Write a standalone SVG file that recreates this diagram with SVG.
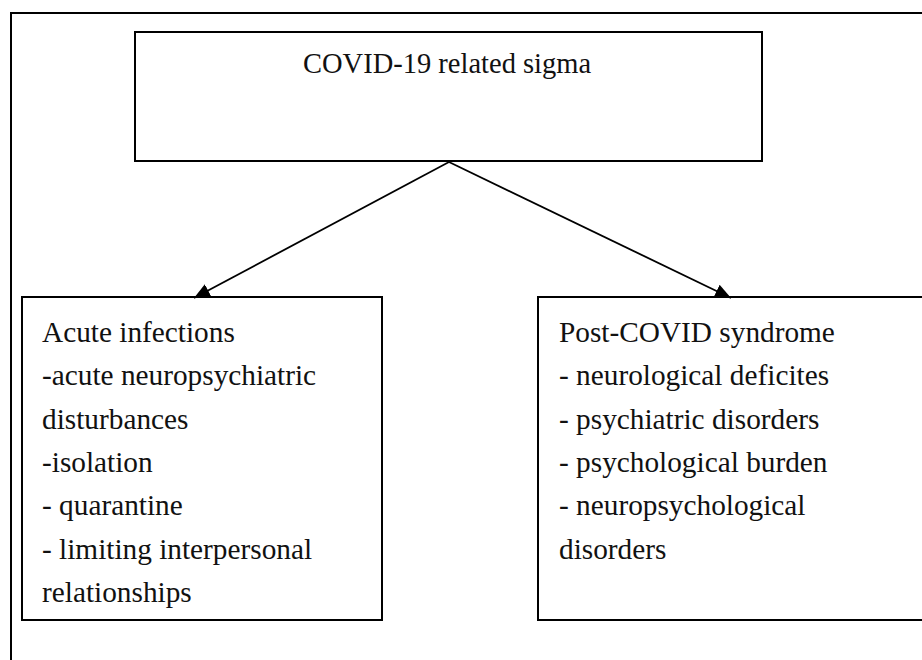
<svg xmlns="http://www.w3.org/2000/svg" width="922" height="660" viewBox="0 0 922 660">
  <style>
    .frame { fill: none; stroke: #000; stroke-width: 2; }
    .box { fill: #fff; stroke: #000; stroke-width: 2; }
    .conn { fill: none; stroke: #000; stroke-width: 1.8; }
    text { font-family: "Liberation Serif", "Times New Roman", serif; font-size: 29.3px; fill: #111; }
    .title { font-size: 28.5px; }
  </style>
  <defs>
    <marker id="arrow" viewBox="0 0 16 14" refX="16" refY="7" markerWidth="16" markerHeight="14" markerUnits="userSpaceOnUse" orient="auto">
      <path d="M0,0 L16,7 L0,14 z" fill="#000"/>
    </marker>
  </defs>
  <rect width="922" height="660" fill="#fff"/>
  <rect class="frame" x="11" y="13" width="960" height="700"/>

  <g id="stigma">
    <rect class="box" x="135" y="32" width="627" height="129"/>
    <text class="title" x="303" y="73">COVID-19 related sigma</text>
  </g>

  <g id="acute">
    <rect class="box" x="22" y="297" width="360" height="323"/>
    <text x="42" y="342">Acute infections</text>
    <text x="42" y="385.3">-acute neuropsychiatric</text>
    <text x="42" y="428.6">disturbances</text>
    <text x="42" y="471.9">-isolation</text>
    <text x="42" y="515.2">- quarantine</text>
    <text x="42" y="558.5">- limiting interpersonal</text>
    <text x="42" y="601.8">relationships</text>
  </g>

  <g id="postcovid">
    <rect class="box" x="538" y="297" width="420" height="323"/>
    <text x="559" y="342">Post-COVID syndrome</text>
    <text x="559" y="385.3">- neurological deficites</text>
    <text x="559" y="428.6">- psychiatric disorders</text>
    <text x="559" y="471.9">- psychological burden</text>
    <text x="559" y="515.2">- neuropsychological</text>
    <text x="559" y="558.5">disorders</text>
  </g>

  <g id="connectors">
    <line class="conn" x1="449" y1="162" x2="194" y2="298" marker-end="url(#arrow)"/>
    <line class="conn" x1="449" y1="162" x2="731" y2="298" marker-end="url(#arrow)"/>
  </g>
</svg>
